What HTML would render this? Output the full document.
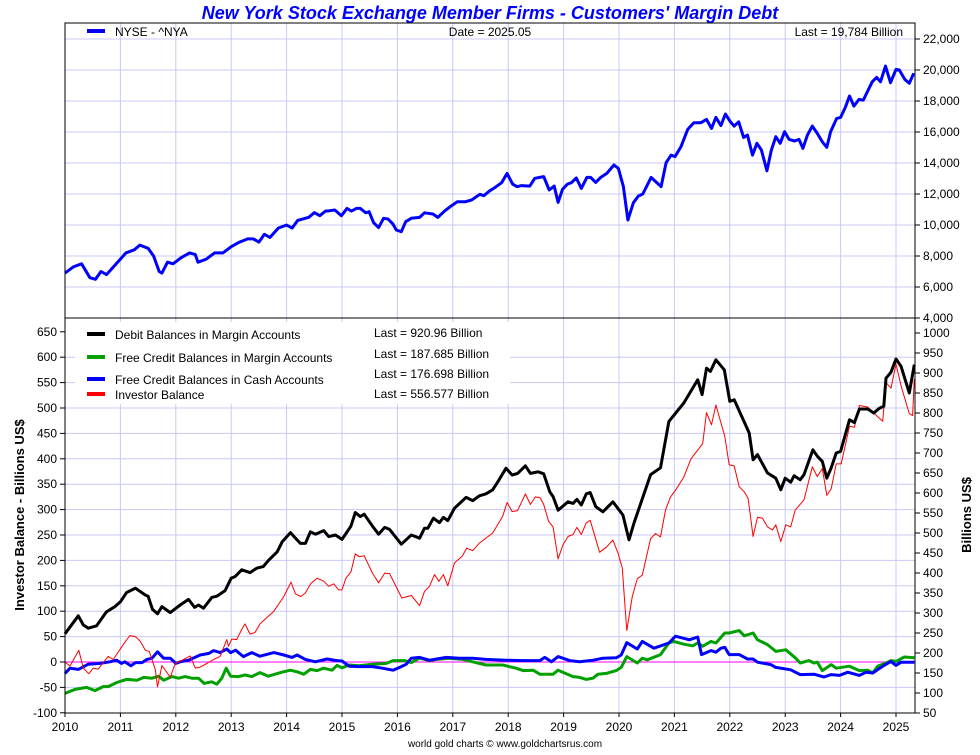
<!DOCTYPE html>
<html><head><meta charset="utf-8"><style>
body{margin:0;background:#fff;font-family:"Liberation Sans",sans-serif}
svg text{font-family:"Liberation Sans",sans-serif}
</style></head><body>
<svg id="c" width="980" height="750" xmlns="http://www.w3.org/2000/svg">
<rect width="980" height="750" fill="#fff"/>
<text x="490" y="19" text-anchor="middle" font-size="18" font-weight="bold" font-style="italic" fill="#0000ff">New York Stock Exchange Member Firms - Customers' Margin Debt</text>
<g id="grid"></g>
<g id="series"></g>
<g id="axes"></g>
<rect x="75" y="322" width="435" height="82" fill="#fff"/>
<g>
<line x1="87" y1="31" x2="105" y2="31" stroke="#0000ff" stroke-width="4"/>
<text x="115" y="36" font-size="12">NYSE - ^NYA</text>
<text x="490" y="36" font-size="12" text-anchor="middle">Date = 2025.05</text>
<text x="903" y="36" font-size="12" text-anchor="end">Last = 19,784 Billion</text>
</g>
<g font-size="12">
<line x1="87" y1="334" x2="105" y2="334" stroke="#000" stroke-width="4"/>
<text x="115" y="339">Debit Balances in Margin Accounts</text>
<line x1="87" y1="357" x2="105" y2="357" stroke="#00a000" stroke-width="4"/>
<text x="115" y="362">Free Credit Balances in Margin Accounts</text>
<line x1="87" y1="379" x2="105" y2="379" stroke="#0000ff" stroke-width="4"/>
<text x="115" y="384">Free Credit Balances in Cash Accounts</text>
<line x1="87" y1="394" x2="105" y2="394" stroke="#ff0000" stroke-width="4"/>
<text x="115" y="399">Investor Balance</text>
<text x="374" y="337">Last = 920.96 Billion</text>
<text x="374" y="358">Last = 187.685 Billion</text>
<text x="374" y="378">Last = 176.698 Billion</text>
<text x="374" y="398">Last = 556.577 Billion</text>
</g>
<text transform="translate(24,515) rotate(-90)" text-anchor="middle" font-size="13" font-weight="bold">Investor Balance - Billions US$</text>
<text transform="translate(971,515) rotate(-90)" text-anchor="middle" font-size="13" font-weight="bold">Billions US$</text>
<text x="505" y="747" text-anchor="middle" font-size="10">world gold charts © www.goldchartsrus.com</text>
</svg>
<script>
const years=[2010,2011,2012,2013,2014,2015,2016,2017,2018,2019,2020,2021,2022,2023,2024,2025];
const topTicks=[4000,6000,8000,10000,12000,14000,16000,18000,20000,22000];
const leftTicks=[-100,-50,0,50,100,150,200,250,300,350,400,450,500,550,600,650];
const rightTicks=[50,100,150,200,250,300,350,400,450,500,550,600,650,700,750,800,850,900,950,1000];
const nyseDates=[2010,2010.15,2010.3,2010.45,2010.55,2010.65,2010.75,2010.9,2011,2011.1,2011.25,2011.35,2011.5,2011.6,2011.7,2011.75,2011.85,2011.95,2012.1,2012.25,2012.35,2012.4,2012.55,2012.7,2012.85,2013,2013.15,2013.3,2013.4,2013.5,2013.6,2013.7,2013.85,2014,2014.1,2014.2,2014.4,2014.5,2014.6,2014.7,2014.78,2014.87,2014.99,2015.09,2015.17,2015.26,2015.33,2015.43,2015.49,2015.57,2015.66,2015.75,2015.83,2015.92,2015.98,2016.07,2016.15,2016.25,2016.4,2016.49,2016.64,2016.73,2016.86,2016.98,2017.08,2017.22,2017.34,2017.49,2017.56,2017.67,2017.76,2017.88,2017.98,2018.08,2018.16,2018.24,2018.39,2018.48,2018.64,2018.74,2018.83,2018.9,2018.98,2019.07,2019.14,2019.23,2019.32,2019.42,2019.49,2019.58,2019.67,2019.78,2019.91,2019.99,2020.08,2020.16,2020.26,2020.35,2020.43,2020.58,2020.76,2020.85,2020.94,2021.01,2021.12,2021.24,2021.35,2021.48,2021.58,2021.67,2021.75,2021.84,2021.92,2022.01,2022.08,2022.16,2022.25,2022.32,2022.41,2022.49,2022.57,2022.67,2022.75,2022.83,2022.91,2022.99,2023.07,2023.17,2023.25,2023.32,2023.4,2023.49,2023.58,2023.67,2023.75,2023.82,2023.93,2024,2024.09,2024.16,2024.24,2024.33,2024.41,2024.57,2024.65,2024.72,2024.81,2024.9,2025,2025.06,2025.16,2025.24,2025.32];
const nyseValues=[6900,7300,7500,6600,6500,7000,6800,7400,7800,8200,8400,8700,8500,8000,7000,6900,7600,7500,7900,8200,8100,7600,7800,8200,8200,8600,8900,9100,9100,8900,9400,9200,9800,10000,9800,10300,10500,10800,10600,10900,10920,10970,10600,11070,10900,11070,11070,10790,10860,10150,9830,10430,10390,10060,9680,9570,10210,10430,10490,10790,10710,10490,10920,11250,11500,11500,11610,11980,11890,12210,12410,12730,13330,12640,12470,12540,12510,13010,13120,12260,12510,11460,12300,12640,12730,13030,12360,13070,13070,12750,13070,13330,13870,13650,12470,10320,11440,11870,12000,13070,12470,14020,14510,14410,15050,16170,16600,16600,16810,16230,16940,16410,17160,16660,16380,16660,15650,15800,14510,15270,14840,13500,14840,15700,15270,16020,15520,15420,15520,14940,15800,16380,15910,15370,15010,16020,16880,16940,17630,18320,17670,18100,18060,19240,19520,19240,20250,19180,20040,20000,19390,19140,19784];
const debitDates=[2010,2010.24,2010.33,2010.42,2010.57,2010.75,2010.9,2011,2011.11,2011.27,2011.45,2011.5,2011.58,2011.67,2011.75,2011.9,2012.08,2012.23,2012.34,2012.41,2012.5,2012.65,2012.74,2012.89,2013,2013.07,2013.19,2013.34,2013.46,2013.58,2013.67,2013.83,2013.92,2014.07,2014.16,2014.25,2014.34,2014.43,2014.52,2014.67,2014.76,2014.88,2015,2015.16,2015.24,2015.33,2015.4,2015.55,2015.66,2015.77,2015.86,2016.07,2016.25,2016.4,2016.49,2016.55,2016.65,2016.76,2016.83,2016.91,2017.03,2017.24,2017.36,2017.48,2017.6,2017.72,2017.84,2017.96,2018.07,2018.17,2018.31,2018.4,2018.54,2018.64,2018.75,2018.81,2018.9,2019.08,2019.17,2019.24,2019.32,2019.41,2019.48,2019.58,2019.71,2019.89,2020.07,2020.18,2020.27,2020.57,2020.75,2020.9,2021.17,2021.42,2021.5,2021.58,2021.65,2021.75,2021.9,2022,2022.08,2022.35,2022.42,2022.5,2022.68,2022.83,2022.92,2023,2023.1,2023.16,2023.27,2023.34,2023.5,2023.58,2023.67,2023.75,2023.83,2023.92,2024,2024.16,2024.25,2024.34,2024.49,2024.6,2024.7,2024.78,2024.82,2024.91,2025,2025.09,2025.24,2025.33];
const debitValues=[248,293,270,262,268,303,316,328,351,362,345,342,309,298,316,301,320,334,314,320,312,339,342,356,387,391,408,401,412,416,431,453,478,501,487,474,474,503,497,506,491,495,484,517,551,541,547,517,497,514,509,472,495,487,512,512,537,526,539,531,562,589,581,593,598,608,634,662,645,649,668,649,653,648,603,591,557,578,574,584,570,598,601,566,553,578,545,483,525,646,663,779,825,883,846,912,904,933,908,829,833,750,683,696,650,637,608,637,627,643,633,646,708,692,679,637,663,700,704,783,776,810,810,800,812,817,887,902,935,917,850,921];
const investorDates=[2010,2010.09,2010.25,2010.33,2010.43,2010.51,2010.6,2010.78,2010.87,2011.05,2011.17,2011.27,2011.36,2011.45,2011.52,2011.63,2011.67,2011.75,2011.9,2011.99,2012.14,2012.26,2012.35,2012.44,2012.56,2012.68,2012.8,2012.92,2012.95,2013.01,2013.1,2013.19,2013.25,2013.34,2013.43,2013.52,2013.64,2013.77,2013.95,2014.08,2014.16,2014.26,2014.34,2014.44,2014.55,2014.67,2014.76,2014.85,2014.94,2015,2015.07,2015.16,2015.24,2015.31,2015.4,2015.55,2015.66,2015.77,2015.86,2016.08,2016.25,2016.4,2016.49,2016.58,2016.67,2016.75,2016.83,2016.91,2017.03,2017.17,2017.25,2017.36,2017.48,2017.72,2017.9,2017.98,2018.07,2018.17,2018.31,2018.4,2018.49,2018.58,2018.64,2018.73,2018.81,2018.9,2018.99,2019.08,2019.17,2019.24,2019.32,2019.41,2019.48,2019.65,2019.77,2019.89,2019.98,2020.06,2020.1,2020.14,2020.24,2020.33,2020.42,2020.57,2020.66,2020.75,2020.84,2020.93,2021.02,2021.17,2021.3,2021.42,2021.51,2021.58,2021.67,2021.75,2021.91,2021.99,2022.08,2022.17,2022.26,2022.33,2022.42,2022.5,2022.59,2022.68,2022.77,2022.83,2022.92,2023.01,2023.1,2023.18,2023.34,2023.49,2023.58,2023.67,2023.75,2023.83,2023.92,2024.01,2024.16,2024.25,2024.34,2024.49,2024.61,2024.76,2024.82,2024.91,2025,2025.09,2025.24,2025.3,2025.33];
const investorValues=[0,-8,23,-12,-23,-12,-14,11,5,34,52,50,41,23,21,-15,-49,-7,-30,-3,5,12,-12,-10,-3,5,11,44,31,45,44,64,75,55,58,75,87,100,129,157,134,129,136,155,165,159,149,154,142,142,165,177,213,207,209,175,156,175,174,126,131,111,139,149,172,159,172,150,195,208,224,219,234,254,287,314,296,298,331,310,325,323,310,277,266,203,231,247,251,265,251,274,279,216,226,240,215,185,123,62,129,164,171,243,253,246,299,325,338,364,400,417,430,491,467,506,444,388,386,345,335,322,247,285,283,266,260,270,237,270,266,299,319,384,365,381,328,341,390,390,464,462,505,502,489,474,550,539,587,544,489,485,557];
const freeMarginDates=[2010,2010.18,2010.39,2010.54,2010.69,2010.78,2010.93,2011.11,2011.3,2011.42,2011.57,2011.69,2011.78,2011.93,2012.05,2012.17,2012.29,2012.41,2012.51,2012.65,2012.74,2012.83,2012.91,2012.99,2013.13,2013.25,2013.37,2013.52,2013.67,2013.89,2014.07,2014.19,2014.31,2014.43,2014.55,2014.67,2014.82,2014.91,2015,2015.13,2015.31,2015.55,2015.8,2015.92,2016.13,2016.25,2016.4,2016.58,2016.7,2016.94,2017.18,2017.36,2017.6,2017.9,2018.14,2018.27,2018.45,2018.57,2018.81,2018.9,2019.17,2019.29,2019.41,2019.53,2019.62,2019.77,2019.95,2020.04,2020.14,2020.33,2020.42,2020.51,2020.75,2020.9,2020.99,2021.17,2021.33,2021.42,2021.51,2021.66,2021.75,2021.91,2021.99,2022.17,2022.26,2022.42,2022.5,2022.68,2022.83,2023.01,2023.19,2023.27,2023.43,2023.52,2023.58,2023.67,2023.83,2023.92,2024.16,2024.34,2024.49,2024.58,2024.67,2024.82,2024.91,2025,2025.15,2025.33];
const freeMarginValues=[99,109,114,106,116,116,126,134,132,139,137,142,132,141,137,141,137,137,124,128,122,137,162,142,141,145,141,151,142,151,157,153,147,159,156,162,157,169,163,170,168,172,174,181,181,176,187,181,184,187,184,178,170,170,162,156,157,147,147,157,141,139,134,137,147,149,156,164,191,175,187,183,196,225,229,222,218,225,217,229,225,250,250,256,243,250,233,221,204,208,187,175,181,175,177,156,171,162,167,156,157,150,167,175,181,179,190,188];
const freeCashDates=[2010,2010.09,2010.24,2010.42,2010.63,2010.81,2010.93,2011.02,2011.08,2011.19,2011.27,2011.39,2011.48,2011.57,2011.67,2011.78,2011.9,2012,2012.08,2012.23,2012.44,2012.6,2012.68,2012.8,2012.92,2012.99,2013.08,2013.22,2013.37,2013.52,2013.77,2013.95,2014.1,2014.19,2014.34,2014.52,2014.73,2014.91,2015,2015.13,2015.31,2015.55,2015.73,2015.92,2016.07,2016.16,2016.25,2016.4,2016.58,2016.88,2017.12,2017.36,2017.6,2017.96,2018.27,2018.57,2018.66,2018.78,2018.9,2019.11,2019.29,2019.53,2019.71,2019.95,2020.04,2020.14,2020.33,2020.42,2020.63,2020.9,2021.02,2021.27,2021.42,2021.49,2021.66,2021.75,2021.84,2021.91,2021.99,2022.17,2022.32,2022.42,2022.5,2022.74,2022.83,2023.1,2023.27,2023.52,2023.7,2023.83,2023.98,2024.13,2024.34,2024.46,2024.58,2024.76,2024.91,2025,2025.09,2025.33];
const freeCashValues=[149,162,159,172,174,178,182,174,178,168,176,176,184,187,203,187,187,174,178,182,195,199,206,201,210,201,207,191,201,192,201,195,189,195,184,178,185,181,180,167,166,166,162,157,166,172,187,189,182,189,187,187,184,182,181,181,189,178,191,181,178,182,187,188,195,226,210,229,212,225,242,233,240,196,206,202,212,214,196,196,185,185,177,171,164,158,146,147,140,146,144,152,144,152,150,167,179,169,177,177];

const NS='http://www.w3.org/2000/svg';
const L=65,R=915,TT=23,TB=318,BT=318,BB=713;
const xS=y=>L+(y-2010)*55.4;
const yTop=v=>318-(v-4000)/2000*31;
const yLeft=v=>662-v*0.508;
const yRight=v=>713-(v-50)*0.4;
function mk(tag,attrs,parent){const e=document.createElementNS(NS,tag);for(const k in attrs)e.setAttribute(k,attrs[k]);parent.appendChild(e);return e;}
const grid=document.getElementById('grid'),axes=document.getElementById('axes'),ser=document.getElementById('series');
years.forEach(y=>{
  const x=xS(y);
  const g=mk('line',{x1:x,y1:TT,x2:x,y2:BB,stroke:'#c8c8f8','stroke-width':1},grid);
  
  
  const t=mk('text',{x:x,y:731,'text-anchor':'middle','font-size':12},axes);
  t.textContent=y;
  
  
  mk('line',{x1:x,y1:BB,x2:x,y2:BB+4,stroke:'#000'},axes);
});
topTicks.forEach(v=>{
  const y=yTop(v);
  if(v>4000){const g=mk('line',{x1:L,y1:y,x2:R,y2:y,stroke:'#c8c8f8'},grid);
  
  }
  mk('line',{x1:R,y1:y,x2:R+5,y2:y,stroke:'#000'},axes);
  const t=mk('text',{x:R+8,y:y+4,'font-size':12},axes);
  t.textContent=v.toLocaleString('en-US');
  
  
});
leftTicks.forEach(v=>{
  const y=yLeft(v);
  if(v<650&&v>-100){const g=mk('line',{x1:L,y1:y,x2:R,y2:y,stroke:'#c8c8f8'},grid);
  
  }
  mk('line',{x1:L-5,y1:y,x2:L,y2:y,stroke:'#000'},axes);
  const t=mk('text',{x:L-8,y:y+4,'font-size':12,'text-anchor':'end'},axes);
  t.textContent=v;
  
  
});
rightTicks.forEach(v=>{
  const y=yRight(v);
  mk('line',{x1:R,y1:y,x2:R+5,y2:y,stroke:'#000'},axes);
  const t=mk('text',{x:R+8,y:y+4,'font-size':12},axes);
  t.textContent=v;
  
  
});
mk('rect',{x:L,y:TT,width:R-L,height:BB-TT,fill:'none',stroke:'#000'},axes);
mk('line',{x1:L,y1:TB,x2:R,y2:TB,stroke:'#000'},axes);
const zl=mk('line',{x1:L,y1:yLeft(0),x2:R,y2:yLeft(0),stroke:'#ff00ff','stroke-width':1},ser);


function line(dates,vals,ys,color,w,name){
  const d=dates.map((t,i)=>(i?'L':'M')+xS(t).toFixed(1)+','+ys(vals[i]).toFixed(1)).join('');
  const p=mk('path',{d:d,fill:'none',stroke:color,'stroke-width':w,'stroke-linejoin':'round'},ser);
  
  
}
line(nyseDates,nyseValues,yTop,'#0000ff',3,'nyse-line');
line(freeMarginDates,freeMarginValues,yRight,'#00a000',3,'free-credit-margin-line');
line(freeCashDates,freeCashValues,yRight,'#0000ff',3,'free-credit-cash-line');
line(investorDates,investorValues,yLeft,'#ff0000',1,'investor-balance-line');
line(debitDates,debitValues,yRight,'#000000',3,'debit-balance-line');
</script>
</body></html>
